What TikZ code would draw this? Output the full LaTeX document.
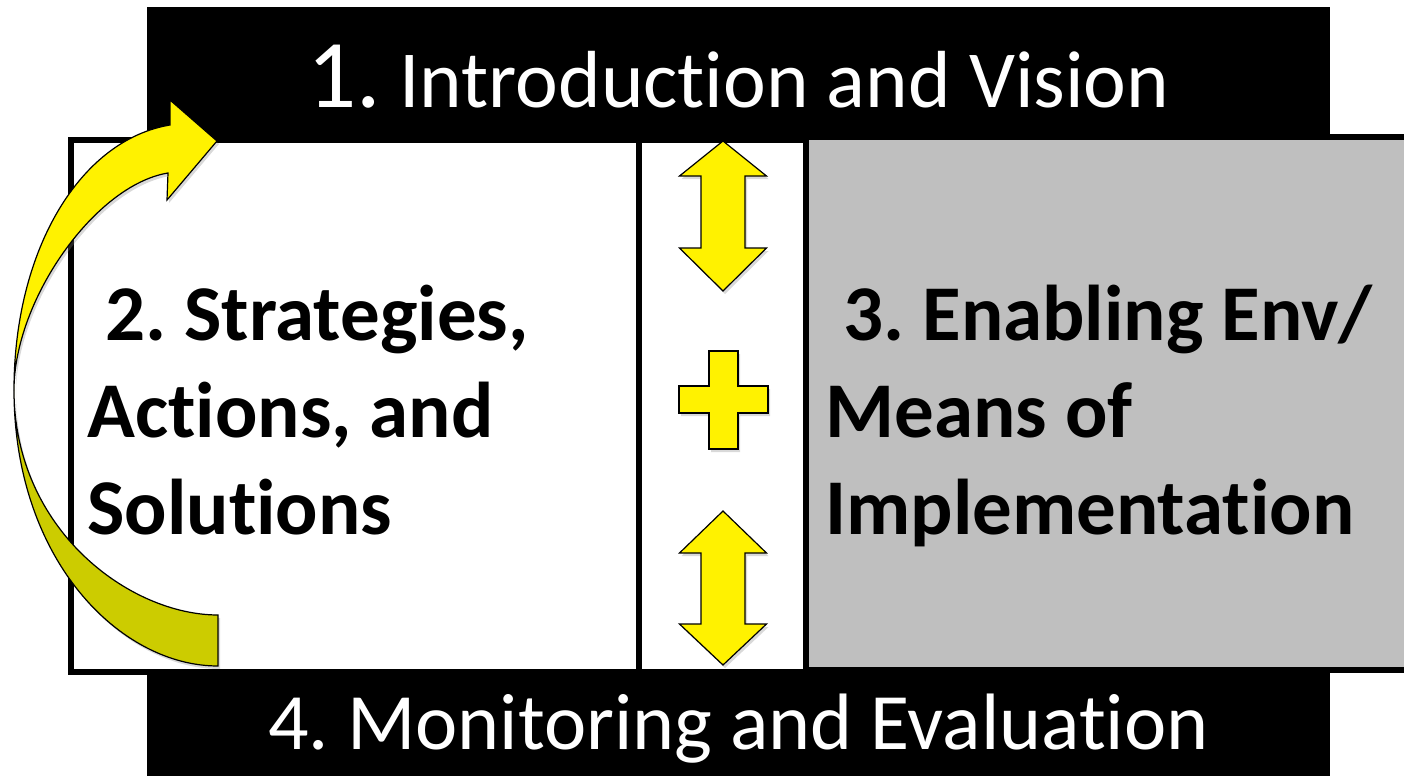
\documentclass[tikz,border=0pt]{standalone}
\usepackage{fontspec}
\setmainfont{Carlito}[Ligatures={NoCommon}]
\usetikzlibrary{shadows}
\definecolor{backyellow}{HTML}{CCCC00}
\definecolor{panelgray}{HTML}{BFBFBF}
\frenchspacing

\begin{document}
\begin{tikzpicture}[x=0.5pt,y=-0.5pt,
    panel/.style={draw=black,line width=3pt},
    bar/.style={fill=black},
    yellowshape/.style={fill=yellow,draw=black,line width=0.6pt,
      drop shadow={shadow xshift=1pt,shadow yshift=-1.5pt,opacity=0.3}},
    bartext/.style={text=white,inner sep=0pt,anchor=base},
    boxtext/.style={font=\fontsize{39.5}{48.5}\selectfont\bfseries,align=left,inner sep=0pt,anchor=west}]
  \useasboundingbox (0,0) rectangle (1404,776);
  % the three panels
  \draw[panel] (70.5,140) rectangle (638.5,672);
  \draw[panel] (638.5,140) rectangle (806,672);
  \fill[panelgray] (806,137) rectangle (1404,670);
  \draw[panel] (1404,137) -- (806,137) -- (806,670) -- (1404,670);
  % top and bottom bars
  \fill[bar] (147,7) rectangle (1330,139);
  \fill[bar] (147,671) rectangle (1330,776);
  \node[bartext,font=\fontsize{40.5}{40.5}\selectfont] (intro) at (738.5,107) {{\fontsize{48.5}{48.5}\selectfont 1.} Introduction and Vision};
  \node[bartext,font=\fontsize{40}{40}\selectfont] (monitor) at (738.5,749) {4. Monitoring and Evaluation};
  % panel texts
  \node[boxtext] (strat) at (87,410) {\hspace*{.23em}2. Strategies,\\Actions, and\\Solutions};
  \node[boxtext] (enable) at (825,416) {\hspace*{.23em}3. Enabling Env/\\Means of\\Implementation};
  % double arrows and plus
  \foreach \t/\a/\b/\e in {141/176/248/291, 511/553/624/665}
    \draw[yellowshape] (723,\t) -- (766.5,\a) -- (745,\a) -- (745,\b) -- (766.5,\b) -- (723,\e)
      -- (679.5,\b) -- (701,\b) -- (701,\a) -- (679.5,\a) -- cycle;
  \draw[yellowshape] (709,351) -- (738,351) -- (738,386) -- (768,386) -- (768,413) -- (738,413)
    -- (738,449) -- (709,449) -- (709,413) -- (679,413) -- (679,386) -- (709,386) -- cycle;
  % curved arrow
  \draw[yellowshape,fill=backyellow] (14,390) .. controls (14,560) and (120,666) .. (218,666)
    -- (218,615) .. controls (130,615) and (14,530) .. (14,390) -- cycle;
  \draw[yellowshape] (14,390) .. controls (14,250) and (80,140) .. (170,125) -- (170,100) -- (217,141)
    -- (167,200) -- (168,173) .. controls (95,185) and (14,300) .. (14,390) -- cycle;
\end{tikzpicture}
\end{document}
